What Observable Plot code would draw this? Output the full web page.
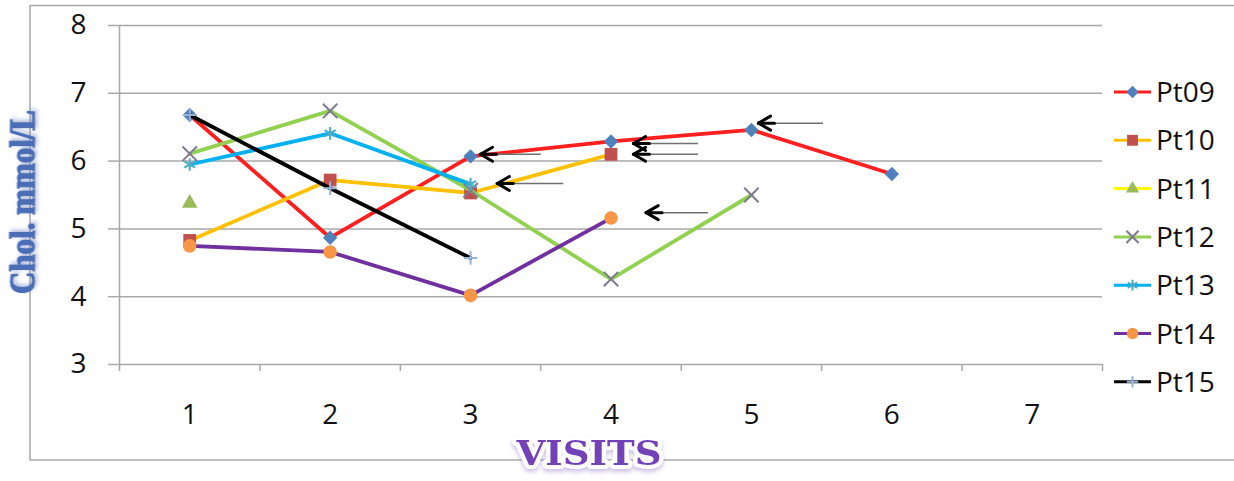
<!DOCTYPE html>
<html><head><meta charset="utf-8">
<script src="https://cdn.jsdelivr.net/npm/d3@7"></script>
<script src="https://cdn.jsdelivr.net/npm/@observablehq/plot@0.6"></script>
<style>body{margin:0;background:#fff}#chart{width:1234px;height:481px}</style>
</head><body><div id="chart"></div>
<script>
// ---- data ----
const visits = [1, 2, 3, 4, 5, 6, 7];
const yTicks = [3, 4, 5, 6, 7, 8];
const pt09 = [6.68, 4.87, 6.07, 6.29, 6.46, 5.81];
const pt10 = [4.83, 5.72, 5.53, 6.10];
const pt11 = [5.38];
const pt12 = [6.11, 6.74, 5.57, 4.26, 5.50];
const pt13 = [5.95, 6.41, 5.66];
const pt14 = [4.75, 4.66, 4.02, 5.16];
const pt15 = [6.68, 5.60, 4.57];
const seriesNames = ["Pt09", "Pt10", "Pt11", "Pt12", "Pt13", "Pt14", "Pt15"];
const seriesValues = [pt09, pt10, pt11, pt12, pt13, pt14, pt15];
const lineColors = ["#ff1f1f", "#ffc000", "#ffff00", "#92d050", "#00b0f0", "#7030a0", "#000000"];
const markerColors = ["#4f81bd", "#c0504d", "#9bbb59", "#7f7a92", "#4bacc6", "#f79646", "#95b3d7"];
const markerSymbols = ["diamond2", "square", "triangle", "times", "asterisk", "circle", "plus"];
const markerRadius = [6.5, 7.2, 5.8, 6.6, 6, 6.8, 4.4];
// annotation arrows (visit position of tip and tail, value)
const arrowTip = [3.07, 3.19, 4.16, 4.16, 4.25, 5.05];
const arrowTail = [3.50, 3.66, 4.62, 4.62, 4.69, 5.51];
const arrowValue = [6.10, 5.67, 6.26, 6.10, 5.24, 6.56];
const yLabel = "Chol. mmol/L";
const xLabel = "VISITS";

const strokeSymbols = new Set(["times", "asterisk", "plus"]);
const gridColor = "#a8a8a8";
const halfTicks = d3.range(0.5, 7.51, 1);
const tickFont = {fontSize: 28, fontFamily: "Open Sans", fill: "#111"};

const marks = [
  Plot.gridY({ticks: yTicks, stroke: gridColor, strokeOpacity: 1, strokeWidth: 1.5}),
  Plot.ruleX([0.5], {stroke: gridColor, strokeWidth: 1.5}),
  Plot.axisY({ticks: yTicks, tickFormat: d3.format("d"), tickSize: 11, tickPadding: 22, stroke: gridColor, strokeWidth: 1.5, label: null, ...tickFont}),
  Plot.axisX({ticks: halfTicks, tickSize: 7, tickFormat: () => "", stroke: gridColor, strokeWidth: 1.5, label: null}),
  Plot.axisX({ticks: visits, tickFormat: d3.format("d"), tickSize: 0, tickPadding: 40, label: null, ...tickFont})
];

seriesValues.forEach((vals, s) => {
  const rows = vals.map((v, i) => ({visit: visits[i], value: v, series: seriesNames[s]}));
  if (rows.length > 1) marks.push(Plot.line(rows, {x: "visit", y: "value", stroke: lineColors[s], strokeWidth: 3.8}));
  const sym = markerSymbols[s];
  marks.push(Plot.dot(rows, {
    x: "visit", y: "value", symbol: () => sym, r: markerRadius[s],
    fill: strokeSymbols.has(sym) ? "none" : markerColors[s],
    stroke: strokeSymbols.has(sym) ? markerColors[s] : "none",
    strokeWidth: 2
  }));
});

// arrows: grey shaft, black chevron head
const arrows = arrowTip.map((t, i) => ({tip: t, tail: arrowTail[i], value: arrowValue[i]}));
const segment = {draw(context, l) { context.moveTo(0, 0); context.lineTo(0, -l); }};
marks.push(Plot.link(arrows, {x1: "tail", x2: "tip", y1: "value", y2: "value", stroke: "#707070", strokeWidth: 1.5}));
for (const angle of [60, 90, 120]) {
  marks.push(Plot.vector(arrows, {x: "tip", y: "value", rotate: angle, length: angle === 90 ? 16 : 14,
    anchor: "start", shape: segment, stroke: "#000", strokeWidth: 3, strokeLinecap: "round"}));
}

marks.push(Plot.text([yLabel], {text: d => d, frameAnchor: "left", textAnchor: "middle", lineAnchor: "middle",
  dx: -97, dy: 7, rotate: -90,
  fontFamily: "Liberation Serif", fontWeight: "bold", fontSize: 36, fill: "#4a6db5",
  stroke: "#4a6db5", strokeWidth: 1.2}));
marks.push(Plot.text([xLabel], {text: d => d, frameAnchor: "bottom", textAnchor: "middle", lineAnchor: "middle", dx: -22, dy: 90,
  fontFamily: "DejaVu Serif", fontWeight: "bold", fontSize: 34, fill: "#7442b8",
  stroke: "white", strokeWidth: 8, paintOrder: "stroke"}));

const plot = Plot.plot({
  width: 1234, height: 481,
  marginLeft: 119, marginRight: 132, marginTop: 25, marginBottom: 117,
  x: {type: "linear", domain: [0.5, 7.5]},
  y: {domain: [3, 8]},
  style: {fontFamily: "Open Sans", fontSize: "28px", background: "white", overflow: "visible"},
  marks
});
document.getElementById("chart").appendChild(plot);

const svg = d3.select(plot);
// outer chart border
svg.insert("rect", ":first-child")
  .attr("x", 30).attr("y", 5.5).attr("width", 1230).attr("height", 454.5)
  .attr("fill", "white").attr("stroke", gridColor).attr("stroke-width", 1.5);

svg.selectAll("text").each(function() {
  const t = this.textContent;
  if (t === xLabel) d3.select(this).attr("textLength", 145).attr("lengthAdjust", "spacingAndGlyphs")
    .style("filter", "drop-shadow(0px 3px 2px rgba(150,120,200,0.45))");
  if (t === yLabel) d3.select(this).attr("textLength", 184).attr("lengthAdjust", "spacingAndGlyphs")
    .style("filter", "drop-shadow(2px 2px 2px rgba(90,110,180,0.5))");
});

// legend
const symMap = {diamond2: d3.symbolDiamond2, square: d3.symbolSquare, triangle: d3.symbolTriangle,
  times: d3.symbolTimes, asterisk: d3.symbolAsterisk, circle: d3.symbolCircle, plus: d3.symbolPlus};
const lg = svg.append("g");
seriesNames.forEach((name, s) => {
  const y = 92 + 48.3 * s;
  const row = lg.append("g").attr("transform", `translate(0,${y})`);
  row.append("line").attr("x1", 1114).attr("x2", 1151).attr("y1", 0).attr("y2", 0)
    .attr("stroke", lineColors[s]).attr("stroke-width", 3);
  const sym = markerSymbols[s];
  const r = markerRadius[s] * 0.85;
  row.append("path").attr("transform", "translate(1132.5,0)")
    .attr("d", d3.symbol(symMap[sym], Math.PI * r * r)())
    .attr("fill", strokeSymbols.has(sym) ? "none" : markerColors[s])
    .attr("stroke", strokeSymbols.has(sym) ? markerColors[s] : "none")
    .attr("stroke-width", 2);
  row.append("text").attr("x", 1156).attr("y", 0).attr("dy", "0.36em").attr("text-anchor", "start")
    .attr("font-family", "Open Sans").attr("font-size", 28).attr("fill", "#111").text(name);
});
</script>
</body></html>
